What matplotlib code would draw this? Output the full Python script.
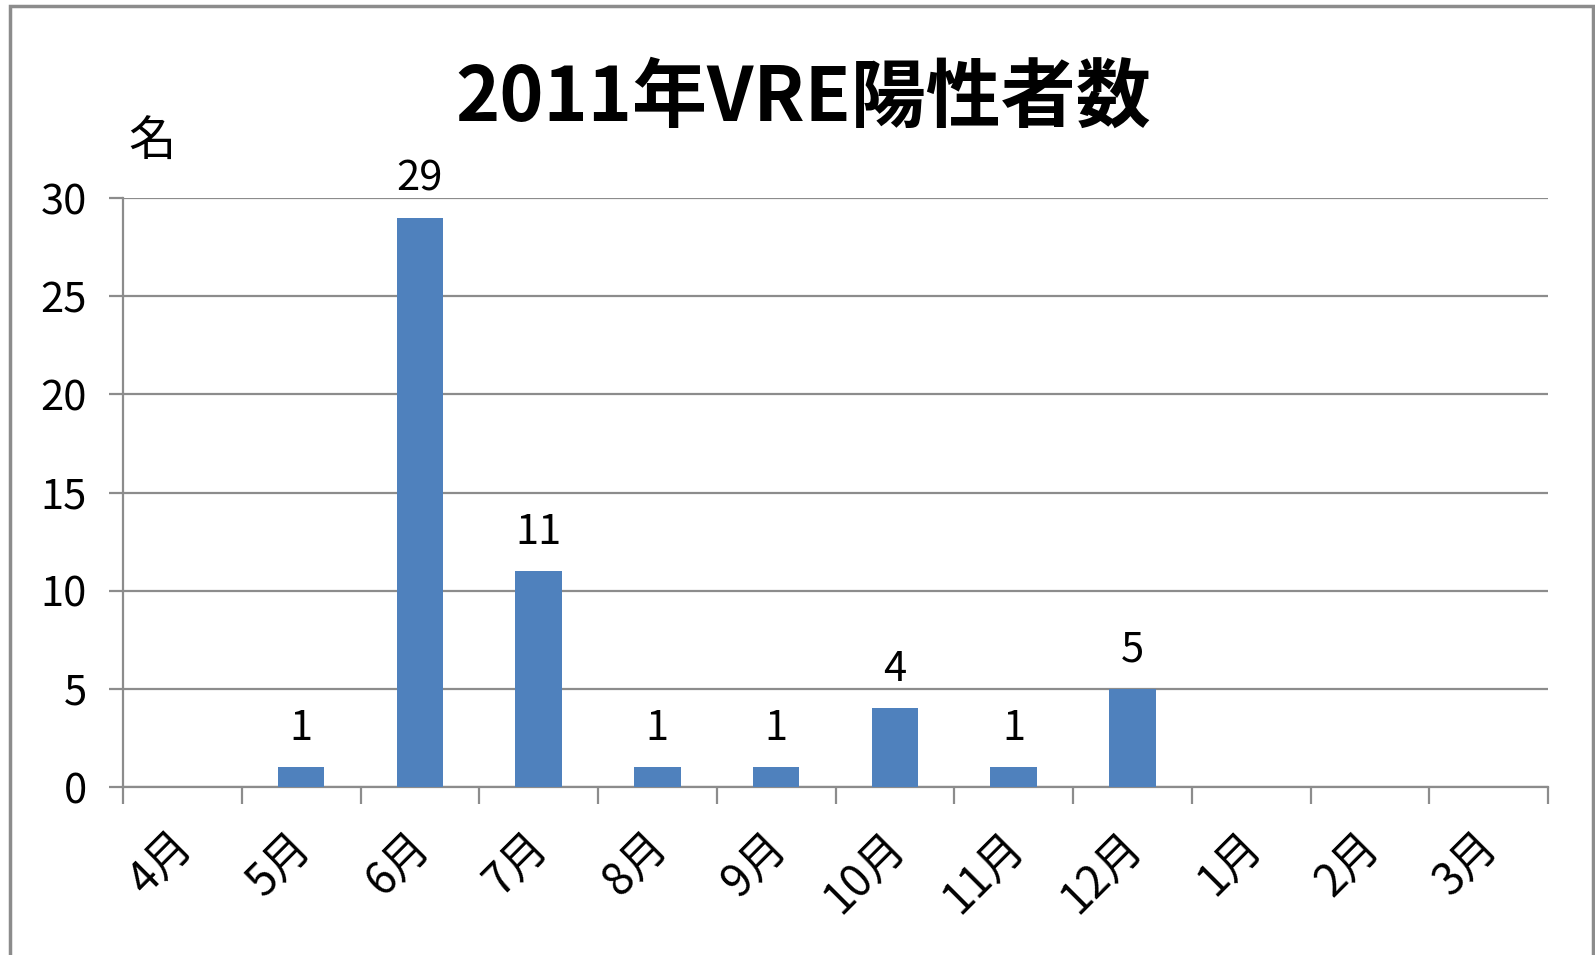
import matplotlib
matplotlib.use("Agg")
import matplotlib.pyplot as plt
import matplotlib.transforms as mtransforms
from matplotlib.patches import Rectangle
import numpy as np

plt.rcParams['font.family'] = ['Noto Sans CJK JP', 'DejaVu Sans']

months = ['4月', '5月', '6月', '7月', '8月', '9月', '10月', '11月', '12月', '1月', '2月', '3月']
counts = [0, 1, 29, 11, 1, 1, 4, 1, 5, 0, 0, 0]
title = '2011年VRE陽性者数'
y_unit = '名'
y_ticks = [0, 5, 10, 15, 20, 25, 30]

W, H = 1595, 955
fig = plt.figure(figsize=(W / 100, H / 100), dpi=100)
fig.patch.set_facecolor('white')

ax = fig.add_axes([123 / W, 1 - 787 / H, (1548 - 123) / W, (787 - 198) / H])
x = np.arange(len(months))
bars = ax.bar(x, counts, width=0.39, color='#4F81BD', zorder=3)

ax.set_xlim(-0.5, len(months) - 0.5)
ax.set_ylim(0, 30)
ax.set_yticks(y_ticks)
ax.yaxis.grid(True, color='#8C8C8C', linewidth=1.6, zorder=0)
ax.set_axisbelow(True)

for s in ['top', 'right']:
    ax.spines[s].set_visible(False)
for s in ['left', 'bottom']:
    ax.spines[s].set_color('#8C8C8C')
    ax.spines[s].set_linewidth(1.6)

ax.tick_params(axis='y', length=10, width=1.6, color='#8C8C8C', labelsize=30, pad=16)
ax.set_xticks(x)
ax.set_xticklabels(months, rotation=45, ha='right', va='top', rotation_mode='anchor', fontsize=32)
ax.tick_params(axis='x', which='major', length=0, pad=26)
ax.set_xticks(np.arange(-0.5, len(months), 1), minor=True)
ax.tick_params(axis='x', which='minor', length=12, width=1.6, color='#8C8C8C')
shift = mtransforms.ScaledTranslation(-14 / 100, 0 / 100, fig.dpi_scale_trans)
for lab in ax.get_xticklabels():
    lab.set_transform(lab.get_transform() + shift)

for xi, v in zip(x, counts):
    if v > 0:
        ax.annotate(str(v), (xi, v), xytext=(0, 13), textcoords='offset points',
                    ha='center', va='bottom', fontsize=30)

fig.text(803 / W, 1 - 99 / H, title, ha='center', va='center',
         fontsize=54, fontweight='bold')
fig.text(152 / W, 1 - 142 / H, y_unit, ha='center', va='center', fontsize=34)

border = Rectangle((10 / W, -0.02), (1593 - 10) / W, 1.02 - 6 / H, transform=fig.transFigure,
                   fill=False, edgecolor='#8C8C8C', linewidth=2.5)
fig.patches.append(border)

fig.savefig('out.png', dpi=100)
